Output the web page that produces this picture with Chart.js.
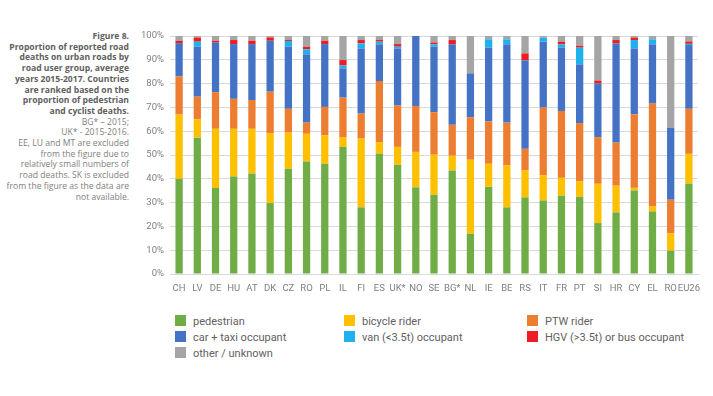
<!DOCTYPE html>
<html lang="en">
  <head>
    <meta charset="UTF-8" />
    <script src="https://cdn.jsdelivr.net/npm/chart.js@4/dist/chart.umd.min.js"></script>
    <title>Figure 8</title>
    <style>
      body { margin: 0; width: 713px; height: 396px; background: #fff; position: relative; font-family: "Open Sans", sans-serif; }
      #note { position: absolute; left: 0; top: 31px; width: 129px; text-align: right; font-size: 8.6px; line-height: 10.7px; color: #808080; }
      #note b { color: #606060; }
      #wrap { position: absolute; left: 0; top: 0; width: 713px; height: 300px; }
      #legend { position: absolute; left: 175px; top: 315px; width: 540px; }
      .item { position: absolute; font-family: Roboto, sans-serif; font-size: 11px; color: #5f5f5f; white-space: nowrap; line-height: 14px; }
      .item span { display: inline-block; width: 11px; height: 11px; vertical-align: -1px; margin-right: 7px; }
    </style>
  </head>
  <body>
    <div id="note">
      <b>Figure 8.<br />Proportion of reported road<br />deaths on urban roads by<br />road user group, average<br />years 2015-2017. Countries<br />are ranked based on the<br />proportion of pedestrian<br />and cyclist deaths.</b><br />
      BG* – 2015;<br />UK* - 2015-2016.<br />EE, LU and MT are excluded<br />from the figure due to<br />relatively small numbers of<br />road deaths. SK is excluded<br />from the figure as the data are<br />not available.
    </div>
    <div id="wrap"><canvas id="myChart"></canvas></div>
    <div id="legend"></div>
  </body>
  <script>
    var countries = ["CH", "LV", "DE", "HU", "AT", "DK", "CZ", "RO", "PL", "IL", "FI", "ES", "UK*", "NO", "SE", "BG*", "NL", "IE", "BE", "RS", "IT", "FR", "PT", "SI", "HR", "CY", "EL", "RO", "EU26"];
    var yTicks = ["0%", "10%", "20%", "30%", "40%", "50%", "60%", "70%", "80%", "90%", "100%"];

    var pedestrian = [40, 57.3, 36.1, 41, 42.2, 29.8, 44.2, 47.3, 46.3, 53.4, 28, 50.5, 45.9, 36.4, 33.3, 43.5, 16.9, 36.6, 28, 32.2, 30.9, 32.9, 32.4, 21.4, 25.9, 35.1, 26.3, 9.8, 38];
    var bicycle = [27, 7.7, 24.9, 20, 18.8, 29.4, 15.2, 11.6, 12, 4.1, 28.9, 4.9, 7.5, 14.9, 16.8, 6.2, 31.1, 9.7, 17.6, 11.3, 10.6, 7.5, 6.6, 16.5, 11.2, 1.1, 2.1, 7.3, 12.5];
    var ptw = [16, 9.5, 15.4, 12.6, 12.1, 17.4, 10, 4.7, 11.9, 16.6, 10.5, 25.7, 17.4, 19.3, 17.9, 13, 17.9, 17.8, 18, 9.1, 28.4, 28.1, 24.4, 19.6, 18.1, 30.9, 43.2, 14.1, 18.9];
    var car = [14, 21, 20.8, 23, 23.5, 21.4, 26.1, 28.7, 26.4, 12.3, 27.4, 15.4, 24, 29.4, 27.5, 33.8, 18.4, 31, 32.9, 37.2, 27.7, 26.6, 24.7, 22.6, 41.7, 27.7, 24.9, 30.3, 26.8];
    var van = [0, 2.1, 0, 0, 0, 0, 2.4, 2.1, 0, 1.2, 2.1, 1.1, 0.7, 0, 1, 0, 0, 3.5, 2.1, 0, 1.7, 1.4, 7, 0, 0, 3.5, 2.1, 0, 0.5];
    var hgv = [1, 1.7, 0.8, 1.7, 1.4, 1.4, 0.4, 1.1, 1.4, 2.3, 1.4, 0.7, 1.1, 0, 0.8, 1.8, 0, 0, 0, 2.9, 0, 1.1, 0.8, 1.2, 1.4, 1, 0, 0, 1];
    var other = [2, 0.7, 2, 1.7, 2, 0.6, 1.7, 4.5, 2, 10.1, 1.7, 1.7, 3.4, 0, 2.7, 1.7, 15.7, 1.4, 1.4, 7.3, 0.7, 2.4, 4.1, 18.7, 1.7, 0.7, 1.4, 38.5, 2.3];

    var seriesNames = ["pedestrian", "bicycle rider", "PTW rider", "car + taxi occupant", "van (<3.5t) occupant", "HGV (>3.5t) or bus occupant", "other / unknown"];
    var seriesData = [pedestrian, bicycle, ptw, car, van, hgv, other];
    var seriesColors = ["#70AD47", "#FFC000", "#ED7D31", "#4472C4", "#1EB1ED", "#EE1C25", "#A5A5A5"];

    var datasets = seriesNames.map(function (name, i) {
      return {
        label: name,
        data: seriesData[i],
        backgroundColor: seriesColors[i],
        barPercentage: 0.4,
        categoryPercentage: 1,
      };
    });

    var tickFont = { family: "Roboto", size: 9.5 };

    new Chart("myChart", {
      type: "bar",
      data: { labels: countries, datasets: datasets },
      options: {
        responsive: true,
        maintainAspectRatio: false,
        animation: false,
        layout: { padding: { left: 130, right: 15, top: 36, bottom: 0 } },
        plugins: { legend: { display: false }, tooltip: { enabled: false } },
        scales: {
          x: {
            stacked: true,
            grid: { display: false, drawTicks: false },
            border: { color: "#D9D9D9" },
            ticks: { color: "#808080", font: tickFont, padding: 9, maxRotation: 0, autoSkip: false },
            afterFit: function (s) { s.height = 26; },
          },
          y: {
            stacked: true,
            min: 0,
            max: 100,
            grid: { color: "#D9D9D9", drawTicks: false },
            border: { display: false },
            ticks: {
              stepSize: 10,
              color: "#808080",
              font: tickFont,
              padding: 6,
              callback: function (v) { return yTicks[Math.round(v / 10)]; },
            },
            afterFit: function (s) { s.width = 40; },
          },
        },
      },
    });

    // legend laid out in three columns like the original
    var legend = document.getElementById("legend");
    var cols = [0, 169, 352];
    seriesNames.forEach(function (name, k) {
      var div = document.createElement("div");
      div.className = "item";
      div.style.left = cols[k % 3] + "px";
      div.style.top = Math.floor(k / 3) * 16 + "px";
      div.innerHTML = '<span style="background:' + seriesColors[k] + '"></span>' + name.replace("<", "&lt;");
      legend.appendChild(div);
    });
  </script>
</html>
